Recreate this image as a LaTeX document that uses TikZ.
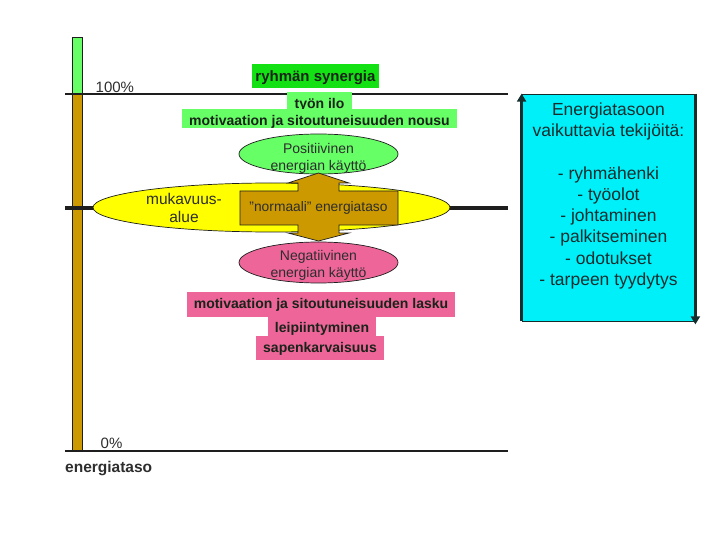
\documentclass[tikz,border=0pt]{standalone}
\usepackage{fontspec}
\setmainfont{Liberation Sans}
\usetikzlibrary{shapes.geometric,arrows.meta}
\definecolor{lightgr}{RGB}{102,255,102}
\definecolor{vividgr}{RGB}{20,225,20}
\definecolor{pinkish}{RGB}{238,102,153}
\definecolor{brownish}{RGB}{204,153,0}
\definecolor{cyanbox}{RGB}{0,240,250}
\definecolor{yellowish}{RGB}{255,255,0}
\definecolor{linec}{RGB}{30,30,30}
\definecolor{txt}{RGB}{45,45,45}
\definecolor{boldtxt}{RGB}{25,35,25}
\definecolor{cyantxt}{RGB}{20,45,45}
\begin{document}
\begin{tikzpicture}[x=1pt,y=-1pt,
  thinline/.style={draw=linec,line width=1.1pt},
  thickline/.style={draw=linec,line width=3.6pt},
  barpart/.style={draw=linec,line width=0.8pt},
  plainlabel/.style={inner sep=0pt,text=txt,font=\fontsize{15}{18}\selectfont},
  boldbox/.style={inner sep=0pt,anchor=base,text=boldtxt,font=\fontsize{14}{16}\bfseries\selectfont},
  oval/.style={ellipse,draw=linec,line width=0.7pt,inner sep=0pt},
  ovaltext/.style={align=center,inner sep=0pt,text=txt,font=\fontsize{14}{17}\selectfont},
  factorarrow/.style={draw=cyantxt,line width=2.6pt,-{Triangle[length=8pt,width=9pt]}}
]
\useasboundingbox (0,0) rectangle (720,540);

% level bar
\fill[lightgr] (72,37) rectangle (82.5,94);
\fill[brownish] (72,94) rectangle (82.5,451);
\draw[barpart] (72,37) rectangle (82.5,451);

% horizontal lines
\coordinate (top-l) at (65,94);
\coordinate (top-r) at (508,94);
\coordinate (mid-l) at (65,208);
\coordinate (mid-r) at (508,208);
\coordinate (bot-l) at (65,451);
\coordinate (bot-r) at (508,451);
\draw[thinline] (top-l) -- (top-r);
\draw[thinline] (bot-l) -- (bot-r);
\draw[thickline] (mid-l) -- (mid-r);

% labels of the scale
\node[plainlabel,anchor=base west] (pct100) at (95.5,92.5) {100\%};
\node[plainlabel,anchor=base west] (pct0) at (100.5,448) {0\%};
\node[inner sep=0pt,anchor=base west,text=txt,font=\fontsize{15.5}{18}\bfseries\selectfont] (axis) at (65,472) {energiataso};

% comfort zone
\node[oval,fill=yellowish,minimum width=357,minimum height=49] (comfortzone) at (271.5,207.5) {};
\node[align=center,inner sep=0pt,text=txt,font=\fontsize{15.5}{18}\selectfont] (comfort) at (184,207.5) {mukavuus-\\alue};

% upper boxes
\node[boldbox,fill=vividgr,minimum width=127,text height=17.7pt,text depth=6.3pt,font=\fontsize{15}{17}\bfseries\selectfont] (synergy) at (315.5,81.7) {ryhmän synergia};
\node[boldbox,fill=lightgr,minimum width=65,text height=17pt,text depth=0pt] (joy) at (319.5,109) {työn ilo};
\node[boldbox,fill=lightgr,minimum width=275,text height=16.6pt,text depth=2.4pt] (rise) at (319.5,125.6) {motivaation ja sitoutuneisuuden nousu};

% positive / negative ovals
\node[oval,fill=lightgr,minimum width=159,minimum height=40,
  label={[name=postext,ovaltext,yshift=-4pt]center:Positiivinen\\energian käyttö}] (positive) at (318.5,154) {};
\node[oval,fill=pinkish,minimum width=159,minimum height=41,
  label={[name=negtext,ovaltext,yshift=-3pt]center:Negatiivinen\\energian käyttö}] (negative) at (318.5,262.5) {};

% double arrow
\draw[fill=brownish,draw=linec,line width=0.7pt]
  (240,191) -- (298,191) -- (298,183) -- (288,183) -- (318.5,173) -- (349,183) -- (339,183) -- (339,191)
  -- (398,191) -- (398,225) -- (339,225) -- (339,233) -- (349,233) -- (318.5,241) -- (288,233)
  -- (298,233) -- (298,225) -- (240,225) -- cycle;
\node[inner sep=0pt,text=txt,font=\fontsize{13.8}{16}\selectfont] (normal) at (318.5,208) {"normaali" energiataso};

% lower boxes
\node[boldbox,fill=pinkish,minimum width=268,text height=16.3pt,text depth=8.7pt] (fall) at (321,308.3) {motivaation ja sitoutuneisuuden lasku};
\node[boldbox,fill=pinkish,minimum width=108,text height=15.3pt,text depth=3.7pt] (boredom) at (322,332.3) {leipiintyminen};
\node[boldbox,fill=pinkish,minimum width=128,text height=16.7pt,text depth=7.3pt] (bile) at (320,352.7) {sapenkarvaisuus};

% factors box
\node[draw=cyantxt,line width=0.8pt,fill=cyanbox,minimum width=173,minimum height=227,inner sep=0pt] (factorbox) at (608.5,207.5) {};
\node[align=center,inner sep=0pt,text=cyantxt,font=\fontsize{17.5}{21.2}\selectfont] (factors) at (608.5,196)
  {Energiatasoon\\vaikuttavia tekijöitä:\\[21.2pt]- ryhmähenki\\- työolot\\- johtaminen\\- palkitseminen\\- odotukset\\- tarpeen tyydytys};
\draw[factorarrow] (factorbox.south west) -- (factorbox.north west);
\draw[factorarrow] (factorbox.north east) -- ([yshift=-3pt]factorbox.south east);
\end{tikzpicture}
\end{document}
